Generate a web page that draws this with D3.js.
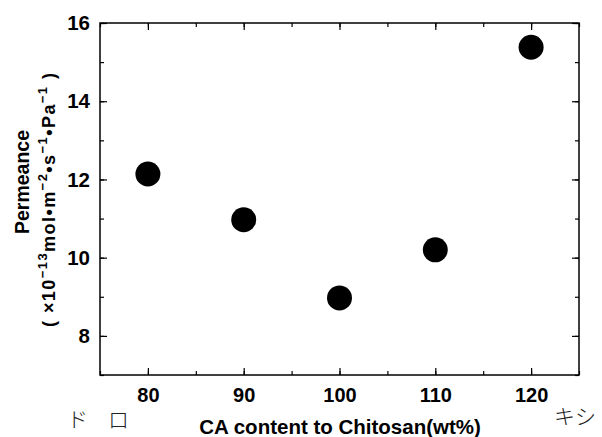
<!DOCTYPE html>
<html><head><meta charset="utf-8">
<script src="https://cdn.jsdelivr.net/npm/d3@7"></script>
<style>body{margin:0;background:#fff}svg{display:block}</style>
</head><body>
<svg id="c" width="602" height="437"></svg>
<script>
const caContent = [80, 90, 100, 110, 120];
const permeance = [12.14, 10.97, 8.97, 10.2, 15.38];
const xTicks = [80, 90, 100, 110, 120];
const yTicks = [8, 10, 12, 14, 16];

const svg = d3.select("#c");
const L = 100, R = 579, T = 23, B = 375;
const x = d3.scaleLinear().domain([75, 125]).range([L, R]);
const y = d3.scaleLinear().domain([7, 16]).range([B, T]);
const font = "'Liberation Sans', Arial, sans-serif";

svg.append("rect").attr("x", L).attr("y", T).attr("width", R - L).attr("height", B - T)
  .attr("fill", "none").attr("stroke", "#000").attr("stroke-width", 1.5);

const xMinor = d3.range(75, 126, 5);
const yMinor = d3.range(7, 16.01, 1);
function ticks(g, axisGen) { g.call(axisGen); g.select(".domain").remove(); g.selectAll("line").attr("stroke", "#000").attr("stroke-width", 1.2); }

const gb = svg.append("g").attr("transform", `translate(0,${B})`);
ticks(gb, d3.axisBottom(x).tickValues(xTicks).tickSizeInner(-7).tickSizeOuter(0).tickPadding(13).tickFormat(d3.format("d")));
gb.selectAll("text").attr("font-family", font).attr("font-size", 20).attr("font-weight", "bold").attr("fill", "#000");
svg.append("g").attr("transform", `translate(0,${B})`).call(g => ticks(g, d3.axisBottom(x).tickValues(xMinor).tickSize(-4).tickFormat("")));
svg.append("g").attr("transform", `translate(0,${T})`).call(g => ticks(g, d3.axisTop(x).tickValues(xTicks).tickSize(-7).tickFormat("")));
svg.append("g").attr("transform", `translate(0,${T})`).call(g => ticks(g, d3.axisTop(x).tickValues(xMinor).tickSize(-4).tickFormat("")));
const gl = svg.append("g").attr("transform", `translate(${L},0)`);
ticks(gl, d3.axisLeft(y).tickValues(yTicks).tickSizeInner(-7).tickSizeOuter(0).tickPadding(10).tickFormat(d3.format("d")));
gl.selectAll("text").attr("font-family", font).attr("font-size", 20.5).attr("font-weight", "bold").attr("fill", "#000");
svg.append("g").attr("transform", `translate(${L},0)`).call(g => ticks(g, d3.axisLeft(y).tickValues(yMinor).tickSize(-4).tickFormat("")));
svg.append("g").attr("transform", `translate(${R},0)`).call(g => ticks(g, d3.axisRight(y).tickValues(yTicks).tickSize(-7).tickFormat("")));
svg.append("g").attr("transform", `translate(${R},0)`).call(g => ticks(g, d3.axisRight(y).tickValues(yMinor).tickSize(-4).tickFormat("")));

svg.append("g").selectAll("circle").data(caContent).join("circle")
  .attr("cx", d => x(d)).attr("cy", (d, i) => y(permeance[i])).attr("r", 12.5).attr("fill", "#000");

svg.append("text").attr("x", 340).attr("y", 434).attr("text-anchor", "middle")
  .attr("font-family", font).attr("font-size", 20.5).attr("font-weight", "bold").text("CA content to Chitosan(wt%)");

svg.append("text").attr("transform", "translate(29,182) rotate(-90)").attr("text-anchor", "middle")
  .attr("font-family", font).attr("font-size", 19.5).attr("font-weight", "bold").text("Permeance");
const t2 = svg.append("text").attr("transform", "translate(55,200) rotate(-90)").attr("text-anchor", "middle")
  .attr("font-family", font).attr("font-size", 18).attr("font-weight", "bold")
  .attr("textLength", 254).attr("lengthAdjust", "spacing");
t2.append("tspan").text("( ×10");
t2.append("tspan").attr("dy", -8).attr("font-size", 13).text("−13");
t2.append("tspan").attr("dy", 8).text("mol•m");
t2.append("tspan").attr("dy", -8).attr("font-size", 13).text("−2");
t2.append("tspan").attr("dy", 8).text("•s");
t2.append("tspan").attr("dy", -8).attr("font-size", 13).text("−1");
t2.append("tspan").attr("dy", 8).text("•Pa");
t2.append("tspan").attr("dy", -8).attr("font-size", 13).text("−1");
t2.append("tspan").attr("dy", 8).text(" )");

const cjk = "'Noto Sans CJK JP', sans-serif";
svg.append("text").attr("x", 67).attr("y", 427).attr("font-family", cjk).attr("font-weight", 300)
  .attr("font-size", 21).attr("fill", "#222").text("ド");
svg.append("text").attr("x", 108).attr("y", 427).attr("font-family", cjk).attr("font-weight", 300)
  .attr("font-size", 21).attr("fill", "#222").text("ロ");
svg.append("text").attr("x", 554).attr("y", 424).attr("font-family", cjk).attr("font-weight", 300)
  .attr("font-size", 21).attr("fill", "#222").text("キシ");
</script>
</body></html>
